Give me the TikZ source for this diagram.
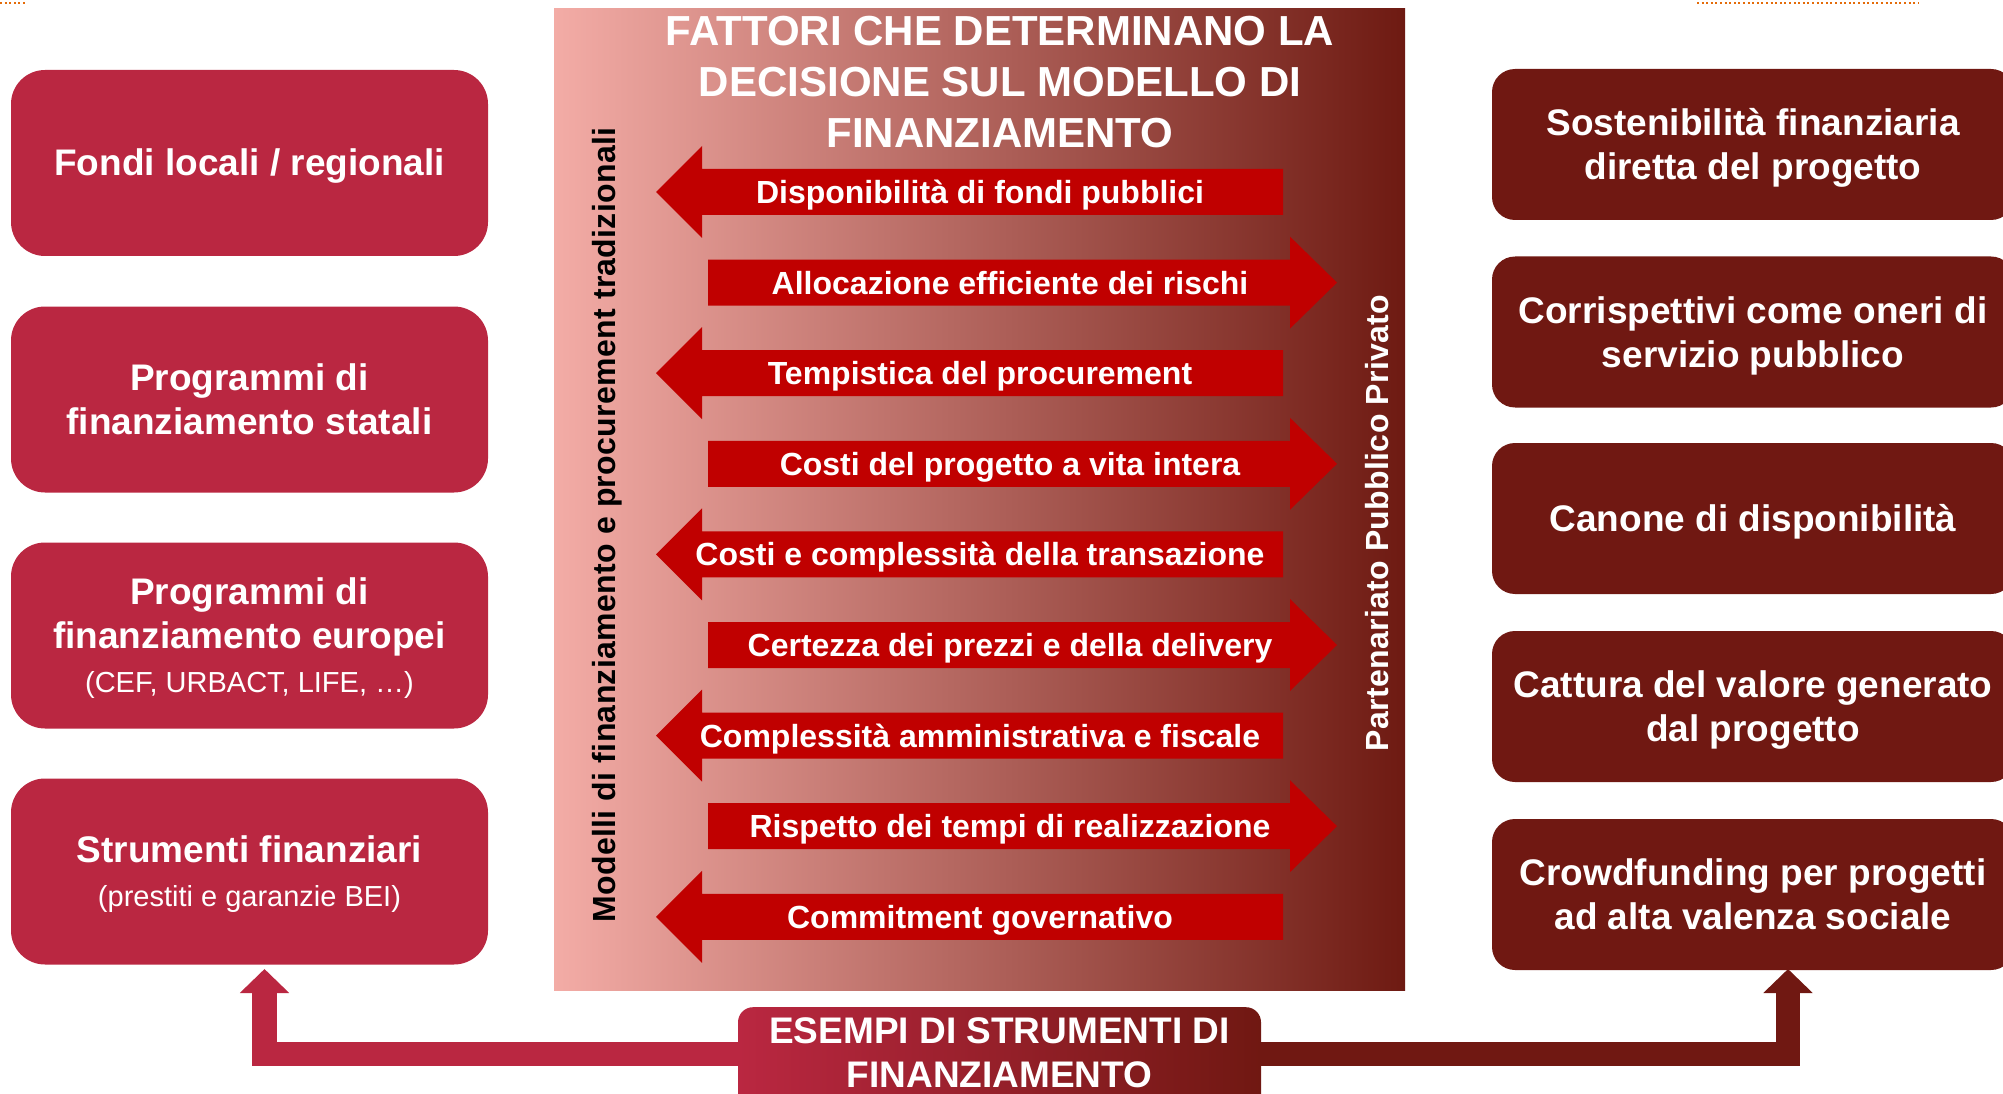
\documentclass[tikz,border=0pt]{standalone}
\usepackage{fontspec}
\setmainfont{Liberation Sans}
\usetikzlibrary{arrows.meta}
\pgfdeclarelayer{background}
\pgfsetlayers{background,main}
\definecolor{crim}{HTML}{BA2741}
\definecolor{dbrown}{HTML}{701812}
\definecolor{arrred}{HTML}{C00000}
\definecolor{gpink}{HTML}{F3ACA6}
\definecolor{gdark}{HTML}{6E1A12}
\definecolor{dotorange}{HTML}{E46C0A}
\newcommand{\topstrutx}{\rule{0pt}{34pt}}
\newcommand{\botstrutx}{\rule[-8pt]{0pt}{8pt}}
\begin{document}
\begin{tikzpicture}[x=1pt,y=-1pt,
  box/.style={rounded corners=#1, inner sep=0pt, text=white, align=center,
    font=\bfseries\fontsize{37}{44}\selectfont},
  lbox/.style={box=34pt, fill=crim, minimum width=477pt, minimum height=186pt},
  rbox/.style={box=23pt, fill=dbrown, minimum width=522pt, minimum height=151pt},
  arrowtxt/.style={anchor=base, text=white, inner sep=0pt,
    font=\bfseries\fontsize{32}{38}\selectfont},
  vtxt/.style={anchor=base, rotate=90, inner sep=0pt,
    font=\bfseries\fontsize{32}{38}\selectfont\addfontfeature{LetterSpace=1}},
  conn/.style={line width=24.5pt, -{Triangle[width=48pt,length=24pt]}},
  dots/.style={dotorange, line width=2pt, dash pattern=on 2pt off 2.6pt}
]
\useasboundingbox (0,0) rectangle (2003,1094);
\clip (0,0) rectangle (2003,1094);

% dotted marks at the top
\draw[dots] (0,3) -- (27,3);
\draw[dots] (1697,3) -- (1919,3);

% central gradient panel
\fill[left color=gpink, right color=gdark] (554,9) rectangle (1405,990);

\node[anchor=north, inner sep=0pt, text=white, align=center,
  font=\bfseries\fontsize{42}{51}\selectfont] (title) at (1000,13)
  {\rule{0pt}{32pt}FATTORI CHE DETERMINANO LA\\DECISIONE SUL MODELLO DI\\FINANZIAMENTO};

% left-pointing arrows
\foreach \k/\t in {0/Disponibilità di fondi pubblici,
                   2/Tempistica del procurement,
                   4/Costi e complessità della transazione,
                   6/Complessità amministrativa e fiscale,
                   8/Commitment governativo}{
  \pgfmathsetmacro\cy{192+90.6*\k}
  \fill[arrred] (656,\cy) -- (702,{\cy-46}) -- (702,{\cy-23}) -- (1283,{\cy-23})
     -- (1283,{\cy+23}) -- (702,{\cy+23}) -- (702,{\cy+46}) -- cycle;
  \node[arrowtxt] (a\k) at (980,{\cy+11.5}) {\t};
}
% right-pointing arrows
\foreach \k/\t in {1/Allocazione efficiente dei rischi,
                   3/Costi del progetto a vita intera,
                   5/Certezza dei prezzi e della delivery,
                   7/Rispetto dei tempi di realizzazione}{
  \pgfmathsetmacro\cy{192+90.6*\k}
  \fill[arrred] (1337,\cy) -- (1290,{\cy-46}) -- (1290,{\cy-23}) -- (708,{\cy-23})
     -- (708,{\cy+23}) -- (1290,{\cy+23}) -- (1290,{\cy+46}) -- cycle;
  \node[arrowtxt] (a\k) at (1010,{\cy+11.5}) {\t};
}

% vertical labels
\node[vtxt, text=black] (trad) at (615,525) {Modelli di finanziamento e procurement tradizionali};
\node[vtxt, text=white] (ppp) at (1388,523) {Partenariato Pubblico Privato};

% left boxes
\node[lbox] (L1) at (249.5,163) {\topstrutx Fondi locali / regionali\botstrutx};
\node[lbox] (L2) at (249.5,399.5) {\topstrutx Programmi di\\finanziamento statali\botstrutx};
\node[lbox] (L3) at (249.5,635.5) {\topstrutx Programmi di\\finanziamento europei\\{\mdseries\fontsize{29}{44}\selectfont (CEF, URBACT, LIFE, …)}\botstrutx};
\node[lbox] (L4) at (249.5,871.5) {\topstrutx Strumenti finanziari\\{\mdseries\fontsize{29}{44}\selectfont (prestiti e garanzie BEI)}\botstrutx};

% right boxes
\node[rbox] (R1) at (1753,144.5) {\topstrutx Sostenibilità finanziaria\\diretta del progetto\botstrutx};
\node[rbox] (R2) at (1753,332) {\topstrutx Corrispettivi come oneri di\\servizio pubblico\botstrutx};
\node[rbox] (R3) at (1753,518.5) {\topstrutx Canone di disponibilità\botstrutx};
\node[rbox] (R4) at (1753,706.5) {\topstrutx Cattura del valore generato\\dal progetto\botstrutx};
\node[rbox] (R5) at (1753,894.5) {\topstrutx Crowdfunding per progetti\\ad alta valenza sociale\botstrutx};

% bottom box
\node[box=15pt, left color=crim, right color=dbrown, minimum width=523pt,
  inner xsep=0pt, inner ysep=2pt, anchor=north] (bx) at (999.5,1007)
  {\topstrutx ESEMPI DI STRUMENTI DI\\FINANZIAMENTO\rule[-40pt]{0pt}{40pt}};

% connectors from the bottom box
\coordinate (band) at (0,1054);
\coordinate (lt) at (264.5,969);
\coordinate (rt) at (1788,969);
\begin{pgfonlayer}{background}
\draw[conn, crim] (bx.center |- band) -| (lt);
\draw[conn, dbrown] (bx.center |- band) -| (rt);
\end{pgfonlayer}
\end{tikzpicture}
\end{document}
